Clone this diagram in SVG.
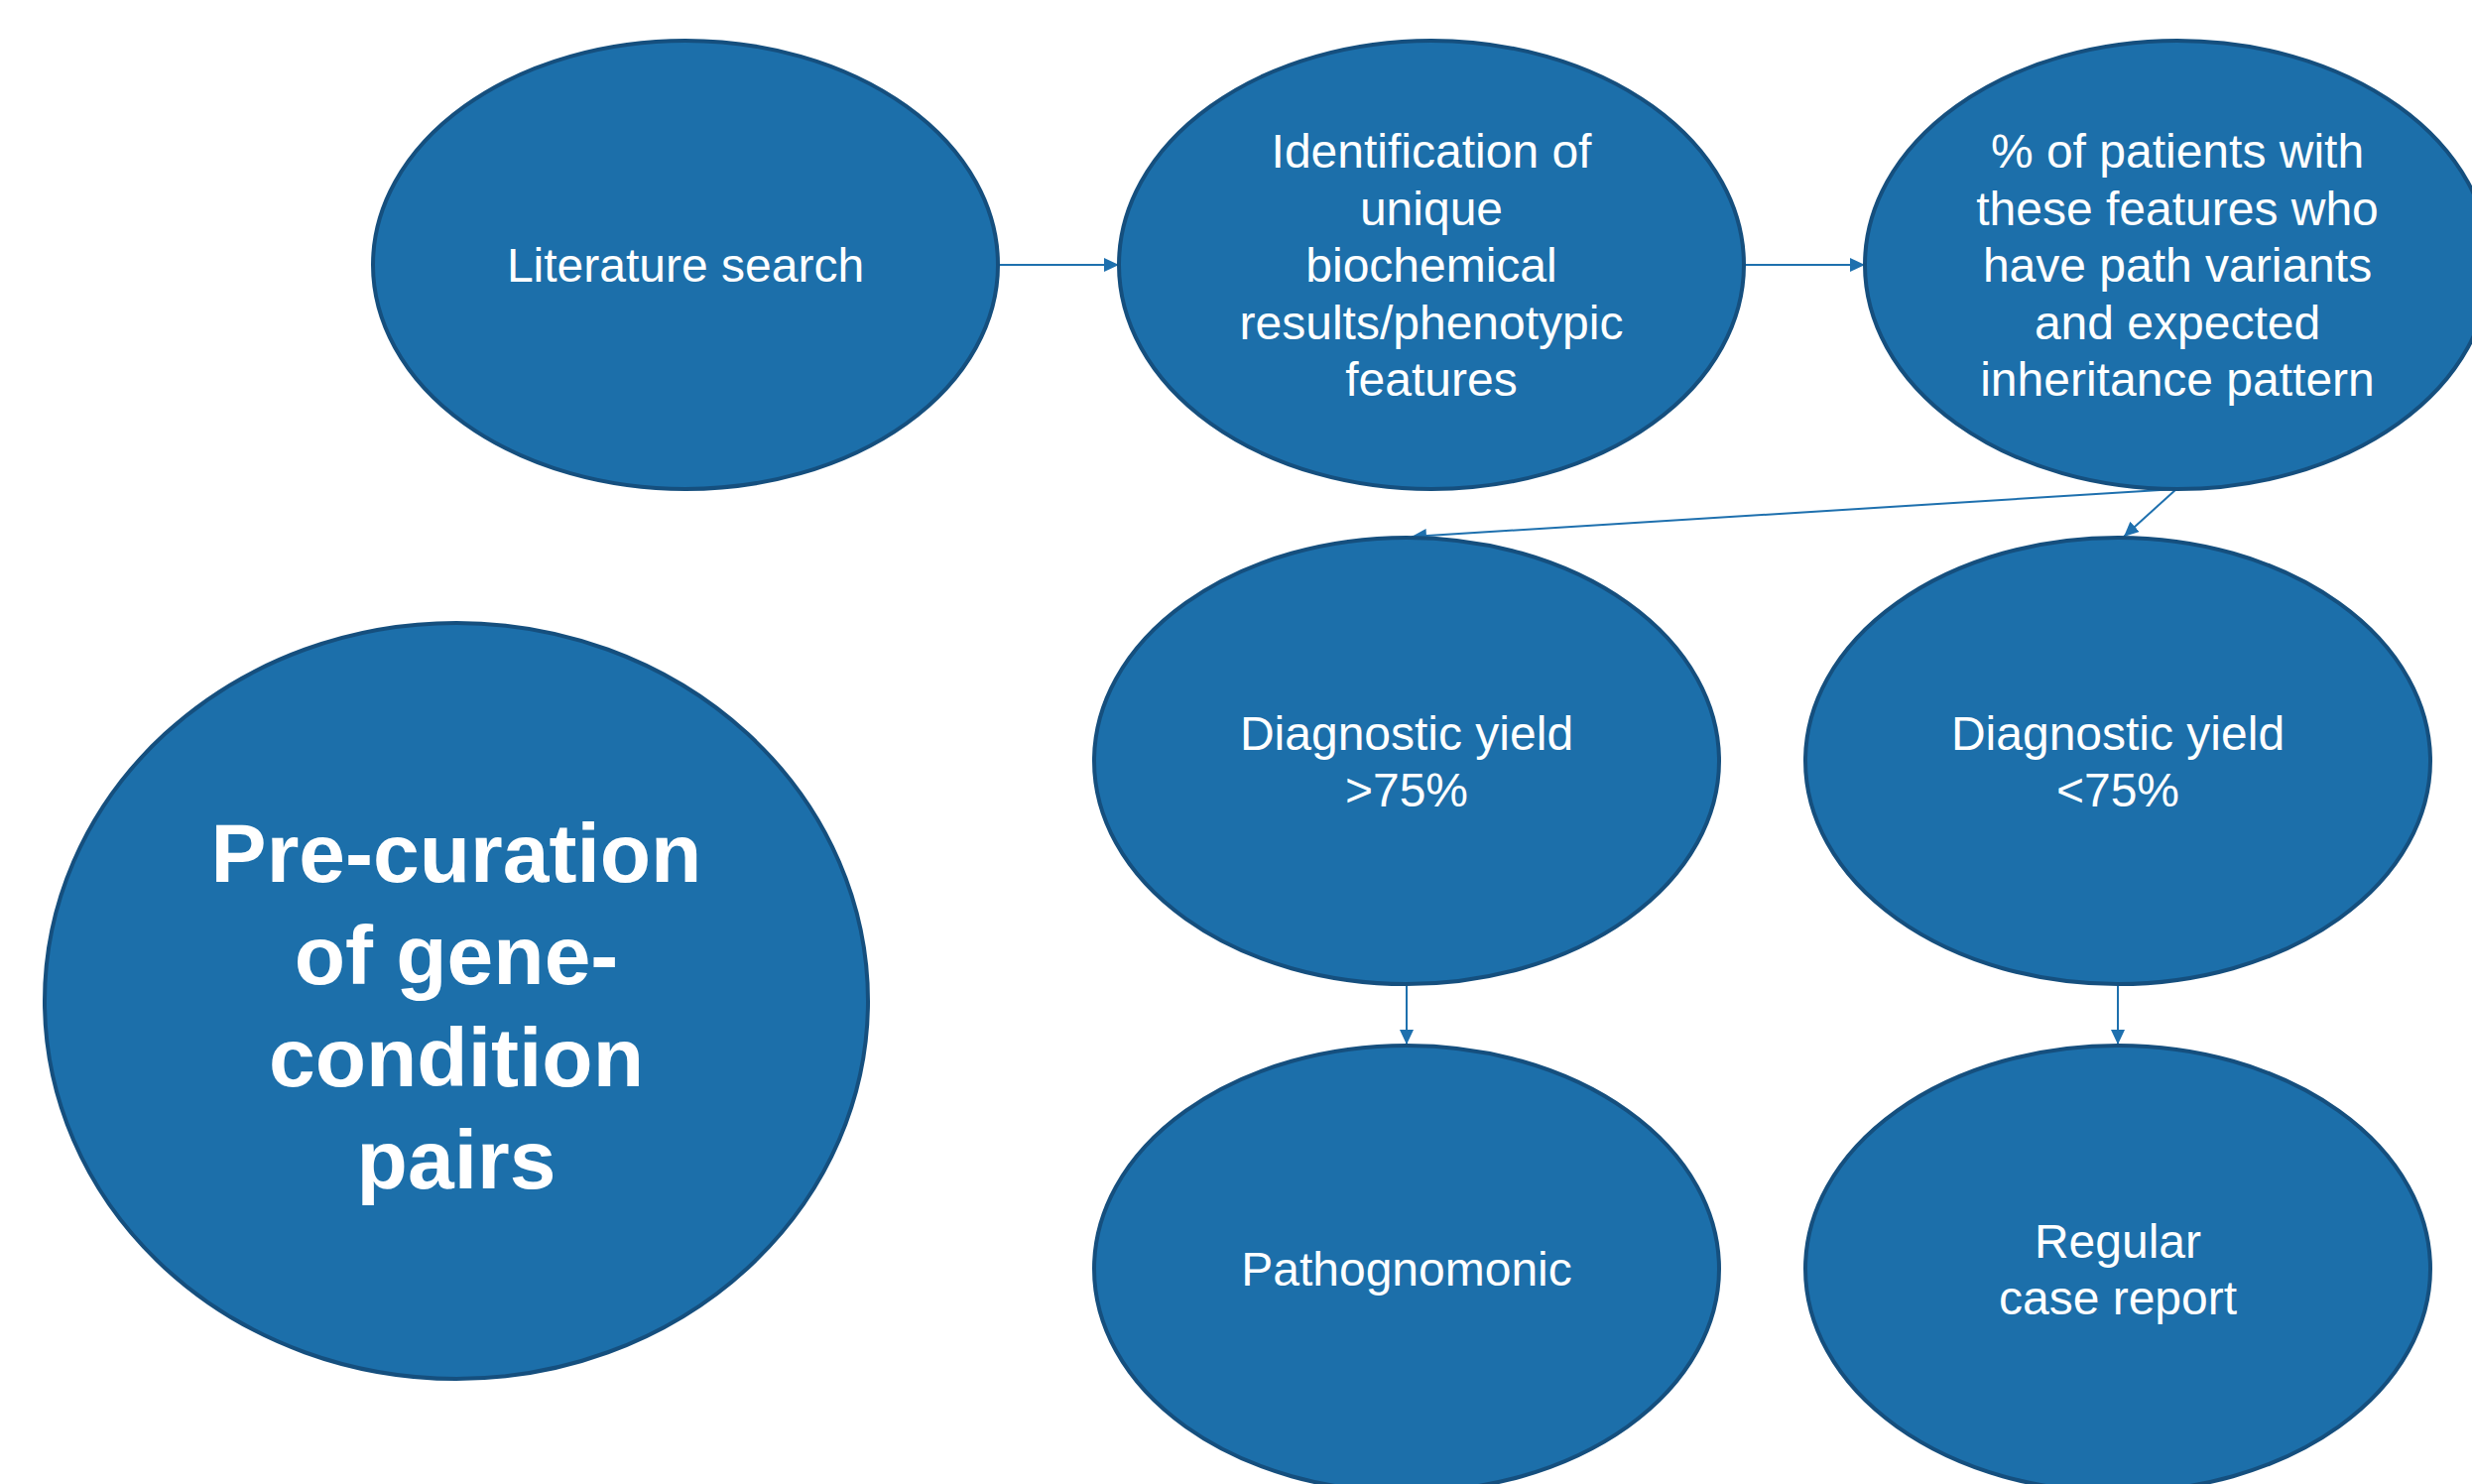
<svg xmlns="http://www.w3.org/2000/svg" width="2492" height="1496" viewBox="0 0 2492 1496">
<style>
.node{fill:#1C6FAA;stroke:#154F7E;stroke-width:4}
.t{font-family:"Liberation Sans",Arial,sans-serif;font-size:48px;fill:#FFFFFF;text-anchor:middle}
.b{font-family:"Liberation Sans",Arial,sans-serif;font-size:84px;font-weight:bold;fill:#FFFFFF;text-anchor:middle}
.c{fill:none;stroke:#1E70AE;stroke-width:2}
</style>
<defs>
<marker id="ah" markerUnits="userSpaceOnUse" markerWidth="16" markerHeight="14" refX="15" refY="7" orient="auto">
<path d="M0,0 L15,7 L0,14 z" fill="#1E70AE"/>
</marker>
</defs>
<rect width="2492" height="1496" fill="#FFFFFF"/>
<g id="connectors">
<line class="c" x1="1006" y1="267" x2="1128" y2="267" marker-end="url(#ah)"/>
<line class="c" x1="1758" y1="267" x2="1880" y2="267" marker-end="url(#ah)"/>
<line class="c" x1="2194" y1="493" x2="1423" y2="541" marker-end="url(#ah)"/>
<line class="c" x1="2194" y1="493" x2="2141" y2="541" marker-end="url(#ah)"/>
<line class="c" x1="1418" y1="993" x2="1418" y2="1053" marker-end="url(#ah)"/>
<line class="c" x1="2135" y1="993" x2="2135" y2="1053" marker-end="url(#ah)"/>
</g>
<g id="literature">
<ellipse class="node" cx="691" cy="267" rx="315" ry="226"/>
<text class="t" x="691" y="284">Literature search</text>
</g>
<g id="identification">
<ellipse class="node" cx="1443" cy="267" rx="315" ry="226"/>
<text class="t" x="1443" y="169">Identification of</text>
<text class="t" x="1443" y="226.6">unique</text>
<text class="t" x="1443" y="284.2">biochemical</text>
<text class="t" x="1443" y="341.8">results/phenotypic</text>
<text class="t" x="1443" y="399.4">features</text>
</g>
<g id="percent">
<ellipse class="node" cx="2195" cy="267" rx="315" ry="226"/>
<text class="t" x="2195" y="169">% of patients with</text>
<text class="t" x="2195" y="226.6">these features who</text>
<text class="t" x="2195" y="284.2">have path variants</text>
<text class="t" x="2195" y="341.8">and expected</text>
<text class="t" x="2195" y="399.4">inheritance pattern</text>
</g>
<g id="yield-high">
<ellipse class="node" cx="1418" cy="767" rx="315" ry="225"/>
<text class="t" x="1418" y="756">Diagnostic yield</text>
<text class="t" x="1418" y="813">&gt;75%</text>
</g>
<g id="yield-low">
<ellipse class="node" cx="2135" cy="767" rx="315" ry="225"/>
<text class="t" x="2135" y="756">Diagnostic yield</text>
<text class="t" x="2135" y="813">&lt;75%</text>
</g>
<g id="pathognomonic">
<ellipse class="node" cx="1418" cy="1279" rx="315" ry="225"/>
<text class="t" x="1418" y="1296">Pathognomonic</text>
</g>
<g id="regular">
<ellipse class="node" cx="2135" cy="1279" rx="315" ry="225"/>
<text class="t" x="2135" y="1268">Regular</text>
<text class="t" x="2135" y="1325">case report</text>
</g>
<g id="precuration">
<ellipse class="node" cx="460" cy="1009" rx="415" ry="381"/>
<text class="b" x="460" y="889">Pre-curation</text>
<text class="b" x="460" y="992">of gene-</text>
<text class="b" x="460" y="1095">condition</text>
<text class="b" x="460" y="1198">pairs</text>
</g>
</svg>
